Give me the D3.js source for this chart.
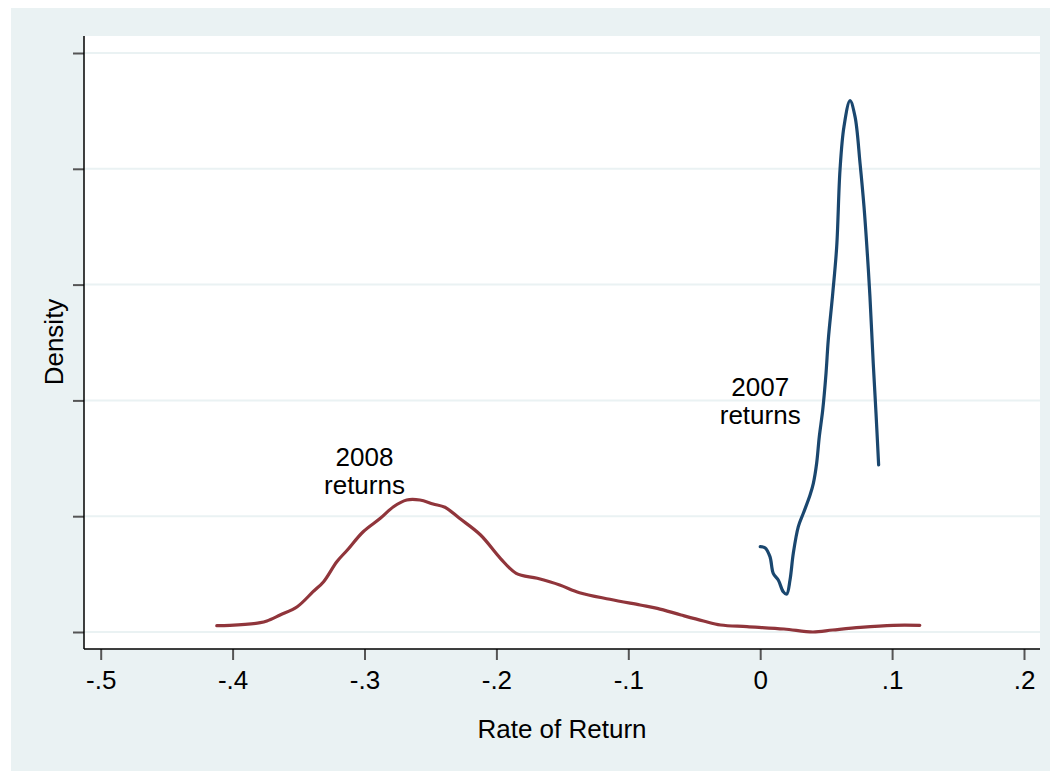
<!DOCTYPE html>
<html>
<head>
<meta charset="utf-8">
<script src="https://d3js.org/d3.v7.min.js"></script>
<title>Density of returns</title>
<style>
body { margin: 0; background: #fff; }
svg text { font-family: "Liberation Sans", Arial, sans-serif; fill: #000; }
.grid line { stroke: #EAF2F3; stroke-width: 2px; }
.curve { fill: none; stroke-width: 3.2px; stroke-linejoin: round; stroke-linecap: round; }
</style>
</head>
<body>
<svg></svg>
<script>
// kernel density, 2008 returns (rate of return, density)
const ret2008 = [-0.412, -0.402, -0.379, -0.374, -0.364, -0.351, -0.339, -0.331, -0.321, -0.313,
  -0.301, -0.288, -0.278, -0.268, -0.258, -0.248, -0.239, -0.228, -0.212, -0.197, -0.185, -0.169,
  -0.152, -0.137, -0.114, -0.091, -0.078, -0.060, -0.043, -0.030, -0.010, 0.018, 0.040, 0.055,
  0.076, 0.101, 0.121];
const dens2008 = [0.109, 0.115, 0.161, 0.190, 0.294, 0.437, 0.696, 0.869, 1.214, 1.416,
  1.732, 1.964, 2.164, 2.280, 2.280, 2.211, 2.154, 1.964, 1.675, 1.273, 1.014, 0.927,
  0.812, 0.679, 0.565, 0.466, 0.409, 0.294, 0.190, 0.121, 0.092, 0.052, 0.0, 0.035,
  0.081, 0.116, 0.116];

// kernel density, 2007 returns
const ret2007 = [0.000, 0.0036, 0.0074, 0.0099, 0.0137, 0.0175, 0.0201, 0.0226, 0.0251, 0.0289,
  0.0327, 0.0378, 0.0403, 0.0428, 0.0448, 0.0474, 0.0499, 0.0516, 0.0550, 0.0580, 0.0605,
  0.0635, 0.0681, 0.0719, 0.0757, 0.0787, 0.0812, 0.0832, 0.0857, 0.0878, 0.0898];
const dens2007 = [1.473, 1.456, 1.301, 1.013, 0.898, 0.696, 0.656, 0.898, 1.359, 1.819,
  2.050, 2.366, 2.568, 2.914, 3.373, 3.834, 4.468, 5.043, 5.850, 6.655, 7.979,
  8.727, 9.176, 8.900, 8.095, 7.345, 6.541, 5.791, 4.641, 3.777, 2.884];

const xTicks = [-0.5, -0.4, -0.3, -0.2, -0.1, 0, 0.1, 0.2];
const xTickLabels = ["-.5", "-.4", "-.3", "-.2", "-.1", "0", ".1", ".2"];
const yTicks = [0, 2, 4, 6, 8, 10];

const W = 1050, H = 771;
const frame = { left: 84, right: 1040, top: 36, bottom: 649 };
const fs = 26;

const svg = d3.select("svg").attr("width", W).attr("height", H);

// outer graph region
svg.append("rect")
  .attr("x", 11).attr("y", 8)
  .attr("width", W - 11).attr("height", H - 8)
  .attr("fill", "#EAF2F3");

// plot region
svg.append("rect")
  .attr("x", frame.left).attr("y", frame.top)
  .attr("width", frame.right - frame.left).attr("height", frame.bottom - frame.top)
  .attr("fill", "#fff");

const x = d3.scaleLinear().domain([-0.5, 0.2]).range([100.7, 1024]);
const y = d3.scaleLinear().domain([0, 10]).range([632, 53]);

// horizontal grid
svg.append("g").attr("class", "grid")
  .selectAll("line").data(yTicks).enter().append("line")
    .attr("x1", frame.left).attr("x2", frame.right)
    .attr("y1", d => y(d)).attr("y2", d => y(d));

// y axis: ticks, no labels
const yAxis = svg.append("g")
  .attr("transform", "translate(" + frame.left + ",0)")
  .call(d3.axisLeft(y).tickValues(yTicks).tickSize(11).tickFormat(""));
yAxis.select(".domain").remove();
yAxis.selectAll(".tick line").attr("stroke", "#555").attr("stroke-width", 2);
svg.append("line")
  .attr("x1", frame.left).attr("x2", frame.left)
  .attr("y1", frame.top).attr("y2", frame.bottom)
  .attr("stroke", "#000").attr("stroke-width", 1.5);

// x axis
const xAxis = svg.append("g")
  .attr("transform", "translate(0," + frame.bottom + ")")
  .call(d3.axisBottom(x).tickValues(xTicks).tickSize(11).tickPadding(11)
    .tickFormat((d, i) => xTickLabels[i]));
xAxis.select(".domain").remove();
xAxis.selectAll(".tick line").attr("stroke", "#555").attr("stroke-width", 2);
xAxis.selectAll(".tick text")
  .attr("font-size", fs).attr("font-family", null).attr("fill", "#000");
svg.append("line")
  .attr("x1", frame.left).attr("x2", frame.right)
  .attr("y1", frame.bottom).attr("y2", frame.bottom)
  .attr("stroke", "#000").attr("stroke-width", 1.5);

// curves
const line = d3.line()
  .x(d => x(d[0]))
  .y(d => y(d[1]))
  .curve(d3.curveCatmullRom.alpha(0.5));

svg.append("path")
  .attr("class", "curve")
  .attr("stroke", "#90353B")
  .attr("d", line(d3.zip(ret2008, dens2008)));

svg.append("path")
  .attr("class", "curve")
  .attr("stroke", "#1A476F")
  .attr("d", line(d3.zip(ret2007, dens2007)));

// annotations, two lines each
const notes = [
  { x: -0.3, y: 2.87, lines: ["2008", "returns"] },
  { x: 0.0, y: 4.08, lines: ["2007", "returns"] }
];
notes.forEach(n => {
  n.lines.forEach((s, i) => {
    svg.append("text")
      .attr("text-anchor", "middle")
      .attr("font-size", fs)
      .attr("x", x(n.x))
      .attr("y", y(n.y) + i * 28)
      .text(s);
  });
});

// axis titles
svg.append("text")
  .attr("x", (frame.left + frame.right) / 2)
  .attr("y", 738)
  .attr("text-anchor", "middle")
  .attr("font-size", fs)
  .text("Rate of Return");

svg.append("text")
  .attr("transform", "translate(63,342) rotate(-90)")
  .attr("text-anchor", "middle")
  .attr("font-size", fs)
  .text("Density");
</script>
</body>
</html>
